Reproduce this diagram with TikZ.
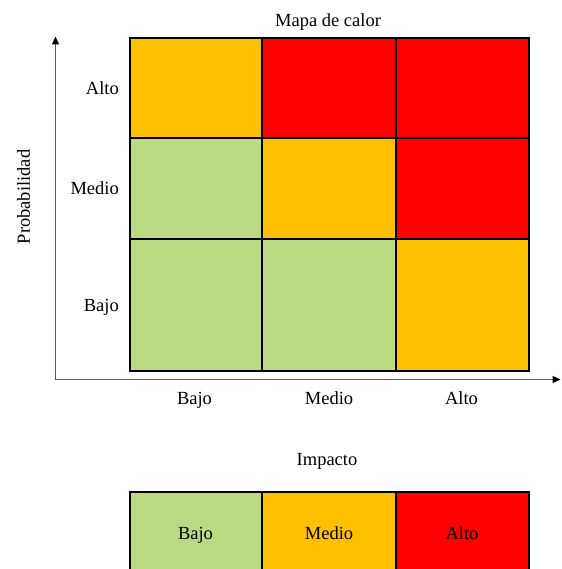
\documentclass[tikz,border=0pt]{standalone}
\usepackage{fontspec}
\setmainfont{Liberation Serif}
\usetikzlibrary{arrows.meta}
\definecolor{hmgreen}{HTML}{BADA84}
\definecolor{hmorange}{HTML}{FFC000}
\definecolor{hmred}{HTML}{FF0000}
\definecolor{axisgray}{HTML}{595959}
\tikzset{
  cell/.style={draw=black, line width=2pt},
  lbl/.style={font=\fontsize{18.5}{22}\selectfont, inner sep=0pt, text height=12.3pt, text depth=0pt},
  axisline/.style={draw=axisgray, line width=1pt, -{Triangle[length=8pt,width=7pt,fill=black,color=black]}}
}
\begin{document}
\begin{tikzpicture}[x=1pt,y=-1pt]
\useasboundingbox (0,0) rectangle (561,569);
\clip (0,0) rectangle (561,569);
\fill[white] (0,0) rectangle (561,569);
% grid cells
\fill[hmorange] (129.5,38) rectangle (262,138);
\fill[hmred]    (262,38)   rectangle (396,138);
\fill[hmred]    (396,38)   rectangle (528.5,138);
\fill[hmgreen]  (129.5,138) rectangle (262,238.5);
\fill[hmorange] (262,138)   rectangle (396,238.5);
\fill[hmred]    (396,138)   rectangle (528.5,238.5);
\fill[hmgreen]  (129.5,238.5) rectangle (262,370.5);
\fill[hmgreen]  (262,238.5)   rectangle (396,370.5);
\fill[hmorange] (396,238.5)   rectangle (528.5,370.5);
\draw[cell] (129.5,38) rectangle (528.5,370.5);
\draw[cell] (262,38) -- (262,370.5) (396,38) -- (396,370.5);
\draw[cell] (129.5,138) -- (528.5,138) (129.5,238.5) -- (528.5,238.5);
% axes
\coordinate (o) at (55.5,379.5);
\coordinate (ytop) at (55.5,36.5);
\coordinate (xend) at (560.5,379.5);
\draw[axisline] (o) -- (ytop);
\draw[axisline] (o) -- (xend);
% labels
\node[lbl] (title) at (328,20.5) {Mapa de calor};
\node[lbl, rotate=90, text depth=3.5pt] (ylab) at (25.5,197) {Probabilidad};
\node[lbl, anchor=east] (ra) at (119,88) {Alto};
\node[lbl, anchor=east] (rm) at (119,188.5) {Medio};
\node[lbl, anchor=east] (rb) at (119,305) {Bajo};
\node[lbl] (cb) at (194.5,398) {Bajo};
\node[lbl] (cm) at (329,398) {Medio};
\node[lbl] (ca) at (461.5,398) {Alto};
\node[lbl] (xlab) at (327,459.5) {Impacto};
% legend
\fill[hmgreen]  (129.5,491.5) rectangle (262,578);
\fill[hmorange] (262,491.5)   rectangle (396,578);
\fill[hmred]    (396,491.5)   rectangle (528.5,578);
\draw[cell] (129.5,491.5) rectangle (528.5,578);
\draw[cell] (262,491.5) -- (262,578) (396,491.5) -- (396,578);
\node[lbl] (lb) at (195.5,533.5) {Bajo};
\node[lbl] (lm) at (329,533.5) {Medio};
\node[lbl] (la) at (462,533.5) {Alto};
\end{tikzpicture}
\end{document}
